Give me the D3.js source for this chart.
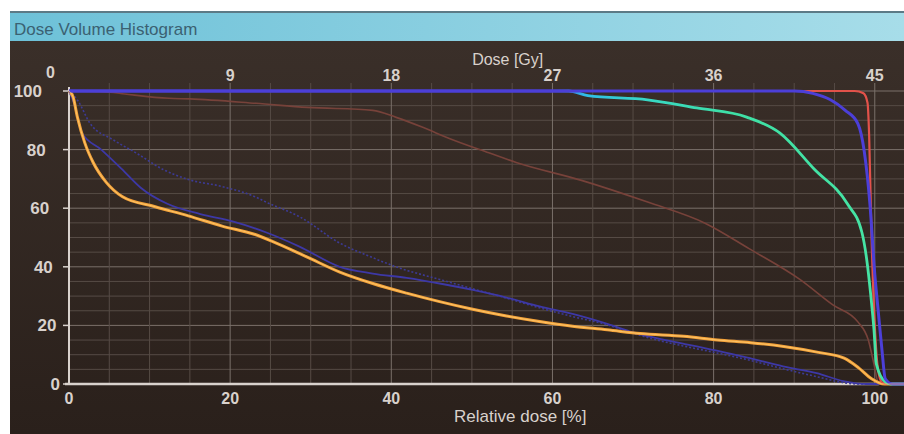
<!DOCTYPE html>
<html>
<head>
<meta charset="utf-8">
<script src="https://cdn.jsdelivr.net/npm/d3@7"></script>
<style>
  body { margin: 0; background: #fff; }
  svg { display: block; }
</style>
</head>
<body>
<svg id="dvh" width="904" height="434"></svg>
<script>
// curves: [relative dose %, volume %]
const redCurve = [[0,100],[97.5,100],[98.6,99.2],[99.1,96],[99.3,85],[99.6,50],[100,20],[100.4,5],[100.9,0.5],[101.5,0],[104,0]];
const blueCurve = [[0,100],[90,100],[92.3,99.2],[94.5,97],[96.3,93.5],[97.9,88.9],[98.7,79.3],[99.4,61.4],[100,37.5],[100.4,25.7],[100.9,11.4],[101.3,1.8],[102.2,0],[104,0]];
const greenCurve = [[0,100],[62,100],[64.4,98.4],[71.8,97],[77.9,94.2],[84.1,91.1],[88.2,85.7],[92.5,73.3],[96.6,61.5],[98.4,51.8],[99,42.5],[99.5,30.4],[99.9,18.6],[100.2,6.8],[101.3,0.7],[102,0],[104,0]];
const orangeCurve = [[0,100],[0.5,98],[1.05,91],[1.96,82.3],[3,75.6],[4.6,68.9],[6.65,63.9],[10.7,60.5],[14.8,57.4],[19,53.9],[23,51.1],[25.3,48.6],[29.5,43.4],[33.6,38.2],[37.7,34.3],[41.9,31],[46,28.1],[50.1,25.5],[54.3,23.2],[58.4,21.3],[62.5,19.7],[66.8,18.5],[70.9,17.2],[76.3,16.3],[80.5,15],[84.6,14.1],[88.7,12.8],[93,10.8],[96.2,8.8],[98,5.5],[99.6,1.8],[101.2,0],[104,0]];
const blueLowCurve = [[0,100],[0.6,96],[1.6,85.7],[4,80],[6.5,73.5],[8.9,67],[12.2,61.5],[16.3,58],[20.3,55.5],[24.5,51.7],[28.6,46.9],[33.6,40],[37.7,37.7],[41.9,36.2],[46,34.3],[50.1,32.1],[54.3,29.5],[58.4,26.5],[62.5,23.9],[66.8,20.5],[70,17.6],[73.3,15.4],[76.2,13.8],[80.4,11.4],[84.5,8.8],[88.6,6],[92.8,3.7],[96.1,1],[99,0],[104,0]];
const blueDotCurve = [[0,100],[1.1,96.7],[2.6,89],[5.5,83.3],[8.3,78.9],[11.7,73.2],[14.8,69.8],[19,67.4],[23.1,63.9],[24.6,61.9],[28.6,57.1],[33.6,48.1],[37.7,43.1],[41,39.6],[46,35.7],[50.1,32.5],[54.3,29.3],[58.4,26],[62.5,23],[66.8,20.2],[70,17.3],[73.3,14.8],[76.2,13],[80.4,10.6],[84.5,8.1],[88.6,5.2],[92.8,2.5],[96,0.5],[98,0],[104,0]];
const brownCurve = [[0,100],[5,99.6],[6.9,99],[12.4,97.5],[15,97.3],[23.2,95.8],[29.6,94.4],[37.7,93.4],[40.6,91],[43.9,87.6],[47.2,83.8],[52.1,78.9],[55.5,75.6],[63.6,69.5],[71.9,62],[79,54.8],[84.4,46.2],[90.7,35.7],[94.8,27],[97.9,21.2],[99.2,15],[99.9,6.8],[100.4,0.7],[101,0],[104,0]];

const relTicks = [0, 20, 40, 60, 80, 100];
const gyTicks = [0, 9, 18, 27, 36, 45];
const volTicks = [0, 20, 40, 60, 80, 100];

const svg = d3.select("#dvh");
const W = 904, H = 434;

const x = d3.scaleLinear().domain([0, 104]).range([69, 907]);
const xGy = d3.scaleLinear().domain([0, 45 * 1.04]).range(x.range());
const y = d3.scaleLinear().domain([0, 100]).range([384, 91]);
// label column drifts with the photo's slant
const yLabX = d3.scaleLinear().domain([0, 100]).range([60, 42]);

const defs = svg.append("defs");
const bar = defs.append("linearGradient").attr("id", "bar");
bar.append("stop").attr("offset", "0%").attr("stop-color", "#6dc1d8");
bar.append("stop").attr("offset", "100%").attr("stop-color", "#a7dde9");
const bg = defs.append("linearGradient").attr("id", "bg").attr("x1", 0).attr("x2", 0).attr("y1", 0).attr("y2", 1);
bg.append("stop").attr("offset", "0%").attr("stop-color", "#3a2f29");
bg.append("stop").attr("offset", "100%").attr("stop-color", "#2a201b");
const gg = defs.append("linearGradient").attr("id", "greenGrad")
    .attr("gradientUnits", "userSpaceOnUse")
    .attr("x1", x(60)).attr("x2", x(100)).attr("y1", 0).attr("y2", 0);
gg.append("stop").attr("offset", "0%").attr("stop-color", "#4a44d8");
gg.append("stop").attr("offset", "10%").attr("stop-color", "#2fbde8");
gg.append("stop").attr("offset", "30%").attr("stop-color", "#38d8c4");
gg.append("stop").attr("offset", "55%").attr("stop-color", "#3ee0a6");
gg.append("stop").attr("offset", "100%").attr("stop-color", "#46e4a4");

// window frame
svg.append("rect").attr("width", W).attr("height", H).attr("fill", "#fff");
svg.append("rect").attr("x", 10).attr("y", 12).attr("width", W - 10).attr("height", 29).attr("fill", "url(#bar)");
svg.append("rect").attr("x", 10).attr("y", 11).attr("width", W - 10).attr("height", 2).attr("fill", "#5c7a86");
svg.append("text").attr("x", 14).attr("y", 35)
    .attr("font-family", "Liberation Sans, Arial, sans-serif").attr("font-size", 17)
    .attr("fill", "#3b6172").text("Dose Volume Histogram");
svg.append("rect").attr("x", 10).attr("y", 41).attr("width", W - 10).attr("height", H - 41).attr("fill", "url(#bg)");

// grid
const g = svg.append("g");
const minor = d3.range(5, 101, 5);
g.selectAll(".hg").data(minor).join("line")
    .attr("x1", x(0)).attr("x2", W)
    .attr("y1", d => y(d)).attr("y2", d => y(d))
    .attr("stroke", d => d % 20 === 0 ? "#7a706a" : "#564b45").attr("stroke-width", 1);
g.selectAll(".vg").data(minor).join("line")
    .attr("x1", d => x(d)).attr("x2", d => x(d))
    .attr("y1", y(100) - 8).attr("y2", y(0))
    .attr("stroke", d => d % 20 === 0 ? "#7a706a" : "#564b45").attr("stroke-width", 1);

// axes
g.append("line").attr("x1", x(0)).attr("x2", x(0)).attr("y1", y(100) - 4).attr("y2", y(0))
    .attr("stroke", "#d9d2cd").attr("stroke-width", 2);
g.append("line").attr("x1", x(0) - 4).attr("x2", x(100) + 4).attr("y1", y(0)).attr("y2", y(0))
    .attr("stroke", "#d9d2cd").attr("stroke-width", 2.5);
g.selectAll(".yt").data(volTicks).join("line")
    .attr("x1", x(0) - 6).attr("x2", x(0)).attr("y1", d => y(d)).attr("y2", d => y(d))
    .attr("stroke", "#d9d2cd").attr("stroke-width", 1.5);

const font = "Liberation Sans, Arial, sans-serif";
g.selectAll(".yl").data(volTicks).join("text")
    .attr("x", d => yLabX(d)).attr("y", d => y(d) + 6)
    .attr("text-anchor", "end").attr("font-family", font).attr("font-size", 17)
    .attr("font-weight", "bold").attr("fill", "#d8d1cc").text(d => d);
g.selectAll(".xl").data(relTicks).join("text")
    .attr("x", d => x(d)).attr("y", y(0) + 20)
    .attr("text-anchor", "middle").attr("font-family", font).attr("font-size", 16)
    .attr("font-weight", "bold").attr("fill", "#d8d1cc").text(d => d);
g.selectAll(".gl").data(gyTicks).join("text")
    .attr("x", d => d === 0 ? xGy(d) - 14 : xGy(d)).attr("y", d => d === 0 ? y(100) - 13 : y(100) - 10)
    .attr("text-anchor", d => d === 0 ? "end" : "middle")
    .attr("font-family", font).attr("font-size", 16)
    .attr("font-weight", "bold").attr("fill", "#d8d1cc").text(d => d);
g.append("text").attr("x", x(56)).attr("y", y(0) + 38).attr("text-anchor", "middle")
    .attr("font-family", font).attr("font-size", 17).attr("fill", "#d8d1cc").text("Relative dose [%]");
g.append("text").attr("x", xGy(24.5)).attr("y", 65).attr("text-anchor", "middle")
    .attr("font-family", font).attr("font-size", 16).attr("fill", "#d8d1cc").text("Dose [Gy]");

// curves
const line = d3.line().x(d => x(d[0])).y(d => y(d[1])).curve(d3.curveMonotoneX);
const curves = [
    { data: brownCurve, color: "#77423a", width: 1.6 },
    { data: blueDotCurve, color: "#3c3a94", width: 1.6, dash: "2,2" },
    { data: blueLowCurve, color: "#3d38a6", width: 1.8 },
    { data: orangeCurve, color: "#f3a23a", width: 3 },
    { data: redCurve, color: "#e2524a", width: 2.2 },
    { data: greenCurve, color: "url(#greenGrad)", width: 2.8 },
    { data: blueCurve, color: "#4c3fd8", width: 3 }
];
g.selectAll(".curve").data(curves).join("path")
    .attr("d", d => line(d.data))
    .attr("fill", "none")
    .attr("stroke", d => d.color)
    .attr("stroke-width", d => d.width)
    .attr("stroke-dasharray", d => d.dash || null)
    .attr("stroke-linejoin", "round");
// bright core on the orange line
g.append("path").attr("d", line(orangeCurve)).attr("fill", "none")
    .attr("stroke", "#ffd27a").attr("stroke-width", 1).attr("opacity", 0.7);
</script>
</body>
</html>
